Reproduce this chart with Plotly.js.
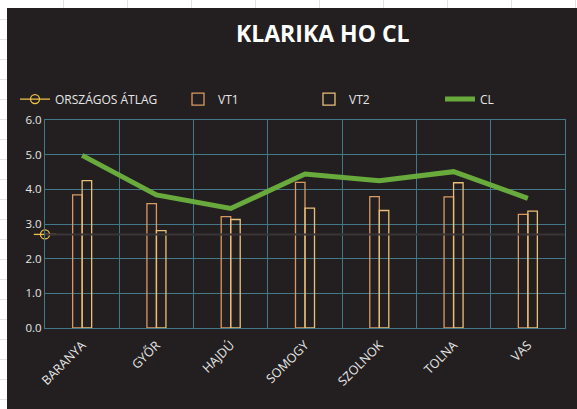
<!DOCTYPE html>
<html>
<head>
<meta charset="utf-8">
<script src="https://cdn.plot.ly/plotly-3.0.1.min.js"></script>
<style>
  html, body { margin: 0; padding: 0; width: 577px; height: 409px; overflow: hidden; }
  body {
    background-color: #ffffff;
    background-image:
      repeating-linear-gradient(to bottom, transparent 0px, transparent 19px, #e3e3e3 19px, #e3e3e3 20px),
      repeating-linear-gradient(to right, transparent 0px, transparent 63px, #e3e3e3 63px, #e3e3e3 64px);
  }
  #chart { position: absolute; left: 7px; top: 8px; width: 570px; height: 401px; }
</style>
</head>
<body>
<div id="chart"></div>
<script>
const categories = ["BARANYA", "GYŐR", "HAJDÚ", "SOMOGY", "SZOLNOK", "TOLNA", "VAS"];
const vt1 = [3.84, 3.59, 3.21, 4.20, 3.79, 3.78, 3.28];
const vt2 = [4.25, 2.81, 3.13, 3.46, 3.39, 4.19, 3.37];
const cl  = [4.98, 3.84, 3.45, 4.44, 4.25, 4.51, 3.74];
const orszagosAtlag = [2.70];
const yTicks = [0, 1, 2, 3, 4, 5, 6];

const font = "'Open Sans', 'Noto Sans', sans-serif";
const gridColor = "#43778a";
const avgColor = "#f0c14a";

const traces = [
  {
    type: "scatter", name: "ORSZÁGOS ÁTLAG", legend: "legend",
    x: [0], y: orszagosAtlag, xaxis: "x2", yaxis: "y",
    mode: "lines+markers", cliponaxis: false,
    line: { color: avgColor, width: 1.3 },
    marker: { symbol: "circle-open", size: 9, color: avgColor, line: { width: 1.3, color: avgColor } },
    hoverinfo: "skip"
  },
  {
    type: "scatter", name: "ORSZÁGOS ÁTLAG", showlegend: false,
    x: [0], y: orszagosAtlag, xaxis: "x2", yaxis: "y",
    mode: "markers", cliponaxis: false,
    marker: { symbol: "line-ew-open", size: 16, color: avgColor, line: { width: 1.3, color: avgColor } },
    hoverinfo: "skip"
  },
  {
    type: "bar", name: "VT1", x: categories, y: vt1, legend: "legend2",
    marker: { color: "rgba(0,0,0,0)", line: { color: "#d99a62", width: 1.3 } }
  },
  {
    type: "bar", name: "VT2", x: categories, y: vt2, legend: "legend3",
    marker: { color: "rgba(0,0,0,0)", line: { color: "#e9c075", width: 1.3 } }
  },
  {
    type: "scatter", name: "CL", x: categories, y: cl, mode: "lines", legend: "legend4",
    line: { color: "#69aa3c", width: 5 }
  }
];

function legendAt(px) {
  return {
    orientation: "h", xref: "container", yref: "container",
    x: px / 570, xanchor: "left", y: 0.773, yanchor: "middle",
    font: { family: font, size: 12, color: "#e6e6e6" },
    bgcolor: "rgba(0,0,0,0)", itemclick: false
  };
}

const layout = {
  width: 570, height: 401,
  paper_bgcolor: "#231f20", plot_bgcolor: "#231f20",
  margin: { l: 38, r: 12, t: 112, b: 81 },
  font: { family: font, color: "#e6e6e6", size: 11 },
  title: {
    text: "<b>KLARIKA HO CL</b>",
    font: { family: font, size: 23, color: "#ffffff" },
    x: 0.554, xanchor: "center", xref: "container",
    y: 0.935, yanchor: "middle", yref: "container"
  },
  barmode: "group", bargap: 0.744, bargroupgap: 0,
  showlegend: true,
  legend: legendAt(8),
  legend2: legendAt(171),
  legend3: legendAt(302),
  legend4: legendAt(433),
  xaxis: {
    type: "category", range: [-0.5, categories.length - 0.5],
    tickson: "boundaries", ticks: "",
    showgrid: true, gridcolor: gridColor, gridwidth: 1,
    showline: true, linecolor: gridColor, mirror: true,
    tickangle: -45, ticklabelstandoff: 4,
    tickfont: { family: font, size: 12.5, color: "#e6e6e6" },
    fixedrange: true
  },
  xaxis2: {
    overlaying: "x", range: [0, 1], visible: false, fixedrange: true
  },
  yaxis: {
    range: [0, 6], tickvals: yTicks, tickformat: ".1f",
    showgrid: true, gridcolor: gridColor, gridwidth: 1,
    showline: true, linecolor: gridColor, mirror: true,
    zeroline: false, ticks: "",
    tickfont: { family: font, size: 11.5, color: "#e6e6e6" },
    fixedrange: true
  },
  shapes: [
    {
      type: "line", xref: "paper", yref: "y", layer: "above",
      x0: 0, x1: 1, y0: orszagosAtlag[0], y1: orszagosAtlag[0],
      line: { color: "#3a3536", width: 2 }
    }
  ]
};

Plotly.newPlot("chart", traces, layout, { displayModeBar: false, staticPlot: true });
</script>
</body>
</html>
